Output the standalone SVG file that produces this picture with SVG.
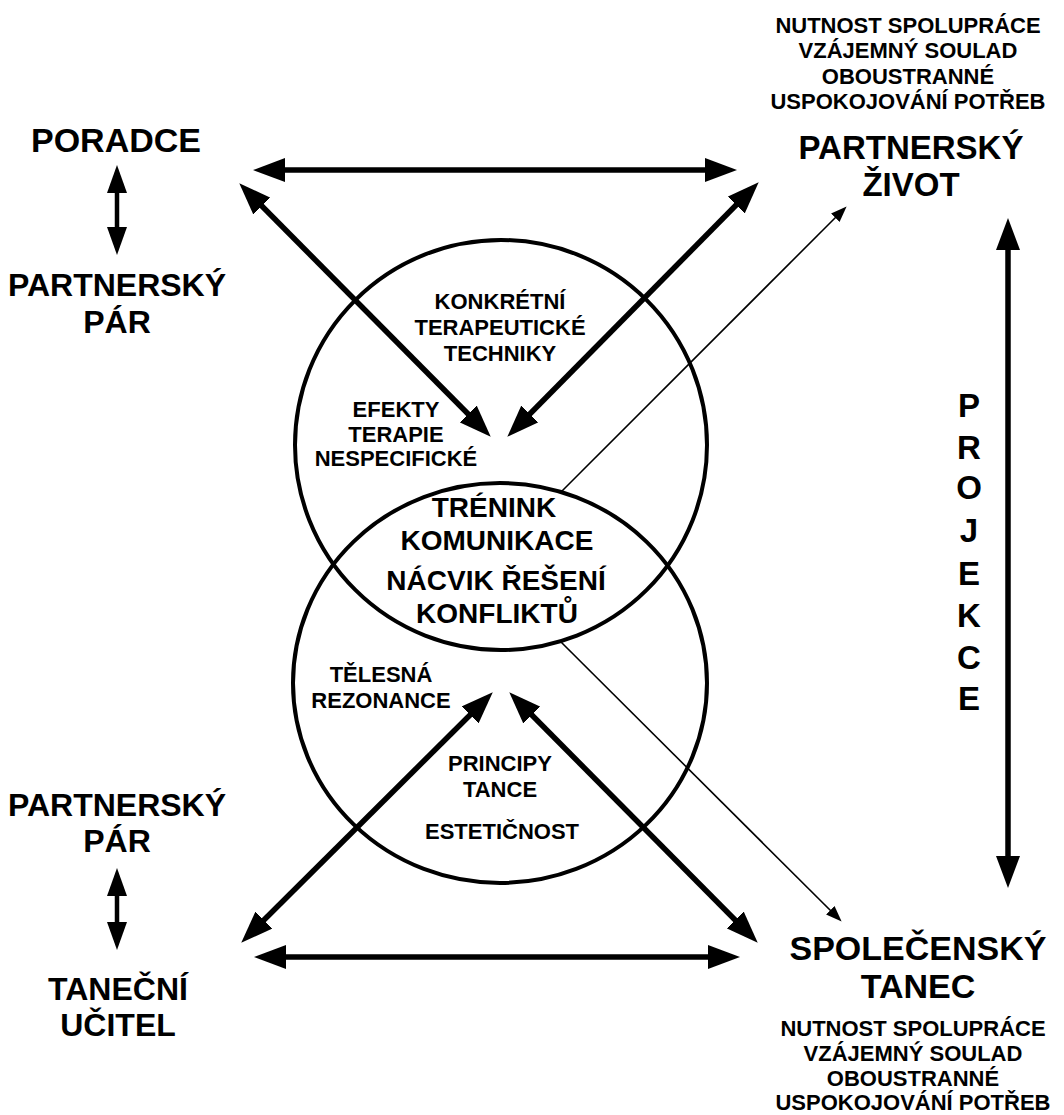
<svg xmlns="http://www.w3.org/2000/svg" width="1064" height="1115" viewBox="0 0 1064 1115">
<style>
text{font-family:"Liberation Sans",Arial,sans-serif;font-weight:bold;text-anchor:middle;fill:#000}
.big{font-size:32px}
.big2{font-size:33px}
.big3{font-size:34px}
.small{font-size:22px}
.inner{font-size:22px}
.lens{font-size:28px}
.proj{font-size:33px}
.circ{fill:none;stroke:#000;stroke-width:4}
.thick{stroke:#000;stroke-width:5.5;fill:none}
.mid{stroke:#000;stroke-width:4.5;fill:none}
.thin{stroke:#000;stroke-width:1.6;fill:none}
</style>
<defs>
<marker id="ah" markerUnits="userSpaceOnUse" viewBox="0 0 32 24" markerWidth="32" markerHeight="24" refX="1" refY="12" orient="auto-start-reverse">
<path d="M0,0 L32,12 L0,24 z" fill="#000"/>
</marker>
<marker id="am" markerUnits="userSpaceOnUse" viewBox="0 0 28 20" markerWidth="28" markerHeight="20" refX="1" refY="10" orient="auto-start-reverse">
<path d="M0,0 L28,10 L0,20 z" fill="#000"/>
</marker>
<marker id="as" markerUnits="userSpaceOnUse" viewBox="0 0 16 12" markerWidth="16" markerHeight="12" refX="1" refY="6" orient="auto">
<path d="M0,0 L16,6 L0,12 z" fill="#000"/>
</marker>
</defs>

<g id="circle-therapy">
<ellipse class="circ" cx="501" cy="445" rx="206" ry="205"/>
<text class="inner" x="500" y="309">KONKRÉTNÍ</text>
<text class="inner" x="500" y="335">TERAPEUTICKÉ</text>
<text class="inner" x="500" y="361">TECHNIKY</text>
<text class="inner" x="396" y="417">EFEKTY</text>
<text class="inner" x="396" y="442">TERAPIE</text>
<text class="inner" x="396" y="466">NESPECIFICKÉ</text>
</g>

<g id="circle-dance">
<ellipse class="circ" cx="500" cy="683" rx="207" ry="200"/>
<text class="inner" x="381" y="682">TĚLESNÁ</text>
<text class="inner" x="381" y="708">REZONANCE</text>
<text class="inner" x="500" y="771">PRINCIPY</text>
<text class="inner" x="500" y="797">TANCE</text>
<text class="inner" x="502" y="839">ESTETIČNOST</text>
</g>

<g id="lens">
<text class="lens" x="494" y="517">TRÉNINK</text>
<text class="lens" x="497" y="550">KOMUNIKACE</text>
<text class="lens" x="496" y="590">NÁCVIK ŘEŠENÍ</text>
<text class="lens" x="497" y="623">KONFLIKTŮ</text>
</g>

<g id="poradce">
<text class="big3" x="116" y="152">PORADCE</text>
</g>
<g id="par-top">
<text class="big" x="117" y="296">PARTNERSKÝ</text>
<text class="big" x="117" y="333">PÁR</text>
</g>
<g id="par-bottom">
<text class="big" x="117" y="816">PARTNERSKÝ</text>
<text class="big" x="117" y="852">PÁR</text>
</g>
<g id="tanecni-ucitel">
<text class="big" x="118" y="1000">TANEČNÍ</text>
<text class="big" x="118" y="1036">UČITEL</text>
</g>

<g id="partnersky-zivot">
<text class="small" x="908" y="33">NUTNOST SPOLUPRÁCE</text>
<text class="small" x="908" y="58">VZÁJEMNÝ SOULAD</text>
<text class="small" x="908" y="84">OBOUSTRANNÉ</text>
<text class="small" x="908" y="109">USPOKOJOVÁNÍ POTŘEB</text>
<text class="big2" x="911" y="159">PARTNERSKÝ</text>
<text class="big2" x="911" y="196">ŽIVOT</text>
</g>

<g id="spolecensky-tanec">
<text class="big3" x="918" y="960">SPOLEČENSKÝ</text>
<text class="big3" x="918" y="998">TANEC</text>
<text class="small" x="913" y="1036">NUTNOST SPOLUPRÁCE</text>
<text class="small" x="913" y="1061">VZÁJEMNÝ SOULAD</text>
<text class="small" x="913" y="1086">OBOUSTRANNÉ</text>
<text class="small" x="913" y="1110">USPOKOJOVÁNÍ POTŘEB</text>
</g>

<g id="projekce">
<text class="proj" x="969" y="417">P</text>
<text class="proj" x="969" y="459">R</text>
<text class="proj" x="969" y="499">O</text>
<text class="proj" x="969" y="542">J</text>
<text class="proj" x="969" y="585">E</text>
<text class="proj" x="969" y="627">K</text>
<text class="proj" x="969" y="669">C</text>
<text class="proj" x="969" y="710">E</text>
</g>

<g id="connectors">
<line class="thick" x1="284" y1="170" x2="706" y2="170" marker-start="url(#ah)" marker-end="url(#ah)"/>
<line class="thick" x1="261.1" y1="205.3" x2="468.9" y2="414.7" marker-start="url(#ah)" marker-end="url(#ah)"/>
<line class="thick" x1="736.9" y1="204.3" x2="529.1" y2="414.7" marker-start="url(#ah)" marker-end="url(#ah)"/>
<line class="thick" x1="263.2" y1="920.8" x2="470.8" y2="714.2" marker-start="url(#ah)" marker-end="url(#ah)"/>
<line class="thick" x1="531.1" y1="714.3" x2="735.9" y2="920.7" marker-start="url(#ah)" marker-end="url(#ah)"/>
<line class="thick" x1="285" y1="957" x2="709" y2="957" marker-start="url(#ah)" marker-end="url(#ah)"/>
<line class="mid" x1="117" y1="192" x2="117" y2="228" marker-start="url(#am)" marker-end="url(#am)"/>
<line class="mid" x1="117" y1="895" x2="117" y2="923" marker-start="url(#am)" marker-end="url(#am)"/>
<line class="thick" x1="1008" y1="249" x2="1008" y2="857" marker-start="url(#ah)" marker-end="url(#ah)"/>
<line class="thin" x1="562" y1="491" x2="836" y2="217" marker-end="url(#as)"/>
<line class="thin" x1="560" y1="641" x2="831" y2="911" marker-end="url(#as)"/>
</g>
</svg>
